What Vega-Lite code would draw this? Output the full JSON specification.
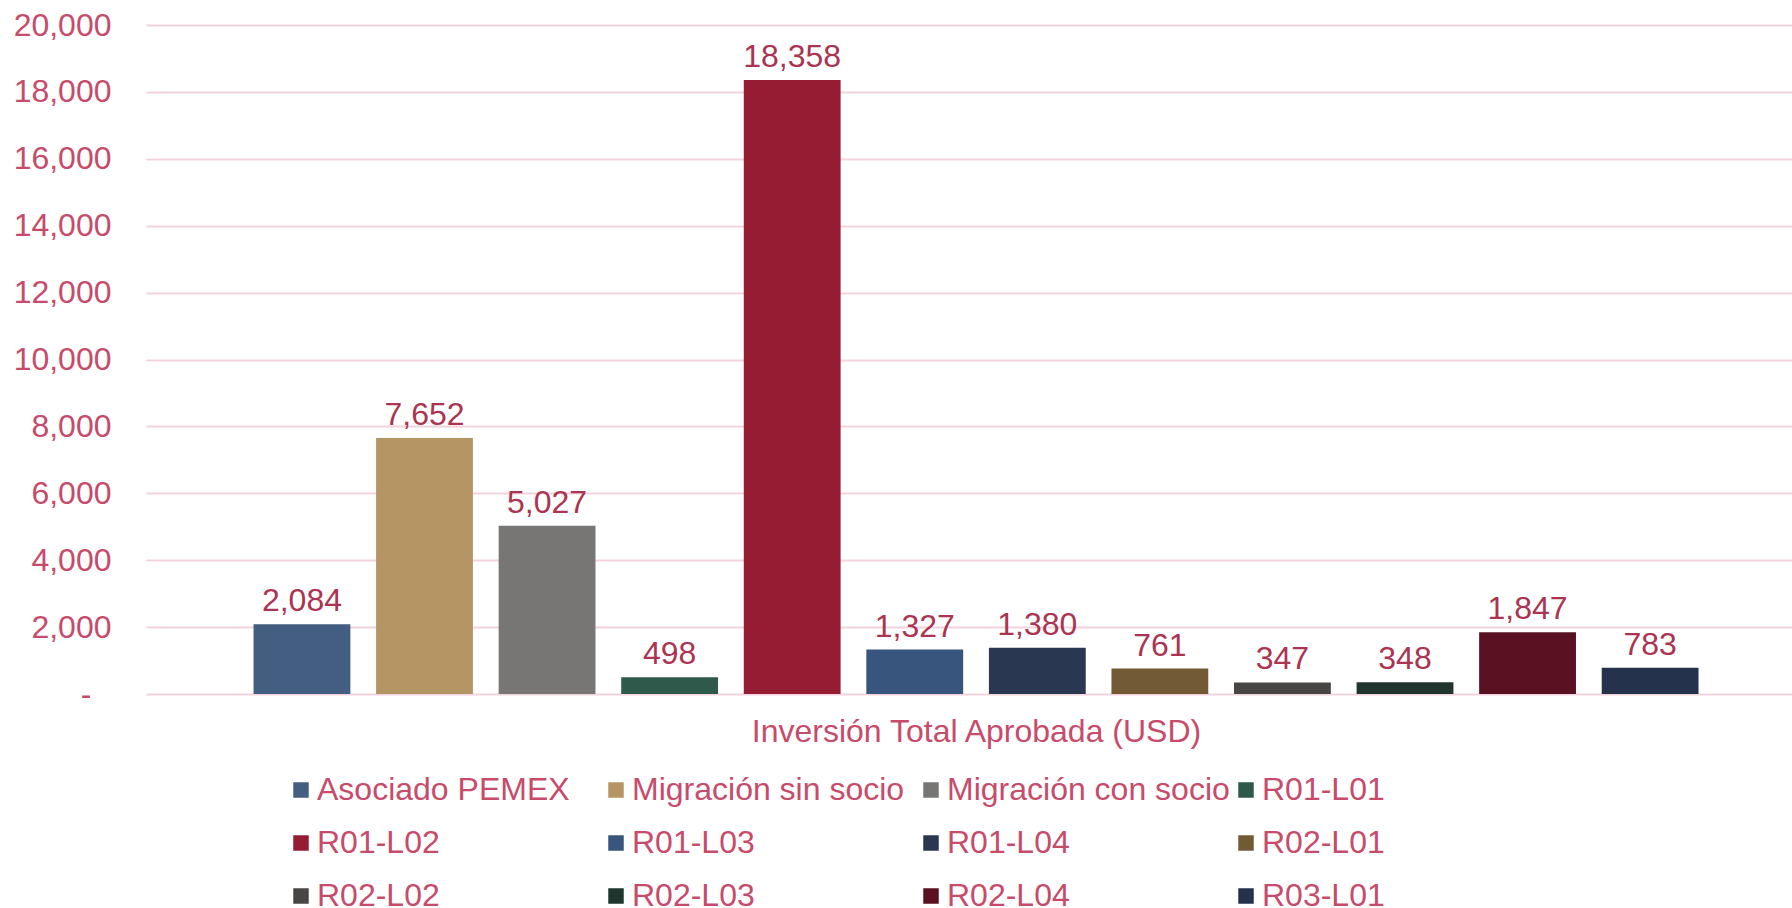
{
  "$schema": "https://vega.github.io/schema/vega-lite/v6.json",
  "autosize": {"type": "none"},
  "padding": {"left": 146, "top": 25, "right": 0, "bottom": 214},
  "width": 1646,
  "height": 669,
  "background": "white",
  "config": {
    "view": {"stroke": null},
    "font": "Liberation Sans"
  },
  "data": {
    "values": [
      {"serie": "Asociado PEMEX", "valor": 2084},
      {"serie": "Migración sin socio", "valor": 7652},
      {"serie": "Migración con socio", "valor": 5027},
      {"serie": "R01-L01", "valor": 498},
      {"serie": "R01-L02", "valor": 18358},
      {"serie": "R01-L03", "valor": 1327},
      {"serie": "R01-L04", "valor": 1380},
      {"serie": "R02-L01", "valor": 761},
      {"serie": "R02-L02", "valor": 347},
      {"serie": "R02-L03", "valor": 348},
      {"serie": "R02-L04", "valor": 1847},
      {"serie": "R03-L01", "valor": 783}
    ]
  },
  "encoding": {
    "x": {
      "field": "serie",
      "type": "nominal",
      "sort": null,
      "scale": {"paddingInner": 0.21, "paddingOuter": 0.82, "align": 0.535},
      "axis": {
        "title": "Inversión Total Aprobada (USD)",
        "labels": false,
        "ticks": false,
        "domain": false,
        "titleFontSize": 32,
        "titleFontWeight": "normal",
        "titleColor": "#C74B6B",
        "titlePadding": 22,
        "titleX": 830,
        "titleFont": "Liberation Sans"
      }
    },
    "y": {
      "field": "valor",
      "type": "quantitative",
      "scale": {"domain": [0, 20000], "nice": false},
      "axis": {
        "title": null,
        "values": [0, 2000, 4000, 6000, 8000, 10000, 12000, 14000, 16000, 18000, 20000],
        "labelExpr": "datum.value == 0 ? '-' : format(datum.value, ',')",
        "labelFontSize": 32,
        "labelColor": "#C74B6B",
        "labelFont": "Liberation Sans",
        "labelPadding": {"condition": {"test": "datum.value == 0", "value": 55}, "value": 35},
        "ticks": false,
        "domain": false,
        "gridColor": "#F2D3DD",
        "gridWidth": 2
      }
    }
  },
  "layer": [
    {
      "mark": {"type": "bar"},
      "encoding": {
        "color": {
          "field": "serie",
          "type": "nominal",
          "sort": null,
          "scale": {
            "domain": ["Asociado PEMEX", "Migración sin socio", "Migración con socio", "R01-L01", "R01-L02", "R01-L03", "R01-L04", "R02-L01", "R02-L02", "R02-L03", "R02-L04", "R03-L01"],
            "range": ["#445E82", "#B59563", "#777674", "#2F5A4B", "#961C33", "#38557D", "#293750", "#725A35", "#484644", "#20352D", "#5A1122", "#24334B"]
          },
          "legend": {
            "title": null,
            "orient": "none",
            "legendX": 139,
            "legendY": 749,
            "direction": "horizontal",
            "columns": 4,
            "gridAlign": "all",
            "columnPadding": 0,
            "rowPadding": 21,
            "padding": 0,
            "symbolType": "square",
            "symbolSize": 240,
            "symbolStrokeWidth": 0,
            "symbolOpacity": 1,
            "labelFontSize": 32,
            "labelFont": "Liberation Sans",
            "labelColor": "#C74B6B",
            "labelLimit": 600,
            "labelOffset": 0
          }
        }
      }
    },
    {
      "mark": {"type": "text", "baseline": "alphabetic", "dy": -13, "fontSize": 32, "font": "Liberation Sans", "color": "#AA3452"},
      "encoding": {
        "text": {"field": "valor", "type": "quantitative", "format": ","}
      }
    }
  ]
}
